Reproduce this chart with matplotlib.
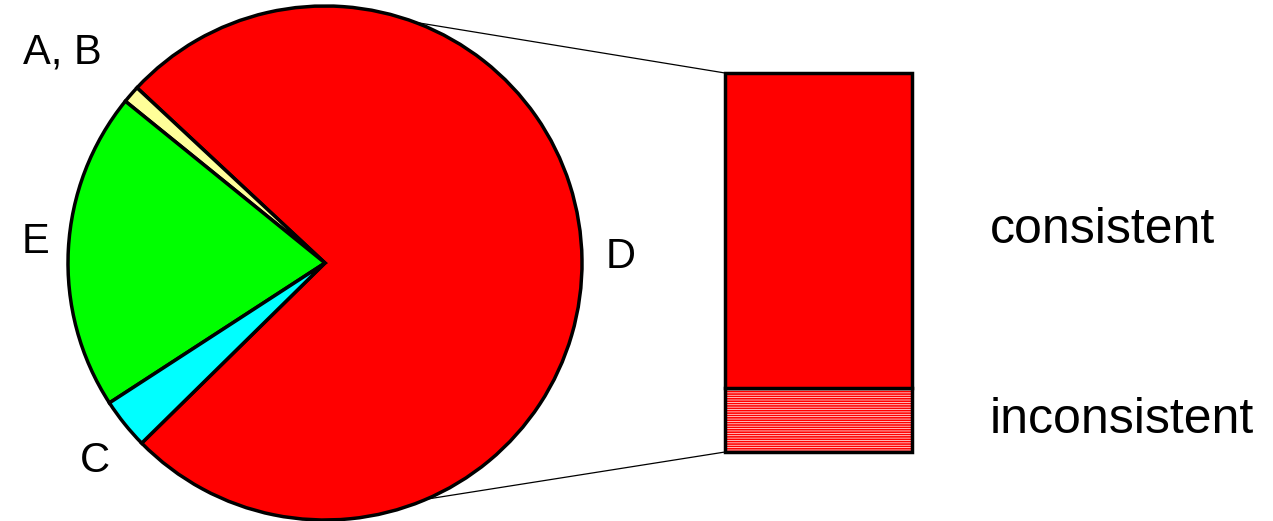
import numpy as np
import matplotlib
matplotlib.use('Agg')
import matplotlib.pyplot as plt
import matplotlib.transforms as mtransforms
from matplotlib.patches import ConnectionPatch

plt.rcParams['font.family'] = ['Liberation Sans', 'DejaVu Sans']
plt.rcParams['hatch.linewidth'] = 1.2

# ---- data ----
pie_labels = ['D', 'A, B', 'E', 'C']
pie_values = [75.7, 1.1, 20.0, 3.2]
pie_colors = ['#ff0000', '#ffff99', '#00ff00', '#00ffff']
bar_labels = ['inconsistent', 'consistent']
bar_values = [17, 83]

W, H = 1273, 521
fig = plt.figure(figsize=(W / 100, H / 100), dpi=100)

# ---- pie ----
cx, cy, r = 325, 263, 257
half = 280
ax_pie = fig.add_axes([(cx - half) / W, (H - cy - half) / H, 2 * half / W, 2 * half / H])
wedges, _ = ax_pie.pie(pie_values, colors=pie_colors, startangle=224.5, counterclock=True,
                       wedgeprops=dict(edgecolor='black', linewidth=2.5, clip_on=False))
lim = half / r
ax_pie.set_xlim(-lim, lim)
ax_pie.set_ylim(-lim, lim)
ax_pie.axis('off')

label_dist = [1.15, 1.31, 1.13, 1.18]
label_shift = [0.4, 2.3, -1.2, 1.9]
for w, lab, d, s in zip(wedges, pie_labels, label_dist, label_shift):
    ang = np.deg2rad((w.theta1 + w.theta2) / 2 + s)
    ax_pie.text(d * np.cos(ang), d * np.sin(ang), lab, ha='center', va='center', fontsize=30)

# ---- bar ----
bx0, bx1, by0, by1 = 725, 912, 73, 452
ax_bar = fig.add_axes([bx0 / W, (H - by1) / H, (bx1 - bx0) / W, (by1 - by0) / H])
ax_bar.bar(0, bar_values[0], width=1, color='white', edgecolor='red', hatch='-------', lw=0)
ax_bar.bar(0, bar_values[0], width=1, fill=False, edgecolor='black', lw=2.5, clip_on=False)
ax_bar.bar(0, bar_values[1], bottom=bar_values[0], width=1, color='red', edgecolor='black',
           lw=2.5, clip_on=False)
ax_bar.set_xlim(-0.5, 0.5)
ax_bar.set_ylim(0, sum(bar_values))
ax_bar.axis('off')

trans = mtransforms.blended_transform_factory(ax_bar.transAxes, ax_bar.transData)
bottoms = np.cumsum([0] + bar_values[:-1])
for lab, v, b in zip(bar_labels, bar_values, bottoms):
    ax_bar.text((990 - bx0) / (bx1 - bx0), b + v / 2, lab, transform=trans,
                ha='left', va='center', fontsize=36)

# ---- connection lines ----
for ang, yb in [(69.5, 1), (-66.8, 0)]:
    a = np.deg2rad(ang)
    con = ConnectionPatch(xyA=(np.cos(a), np.sin(a)), coordsA=ax_pie.transData,
                          xyB=(0, yb), coordsB=ax_bar.transAxes, color='black', lw=0.9)
    fig.add_artist(con)

fig.savefig('out.png', dpi=100)
